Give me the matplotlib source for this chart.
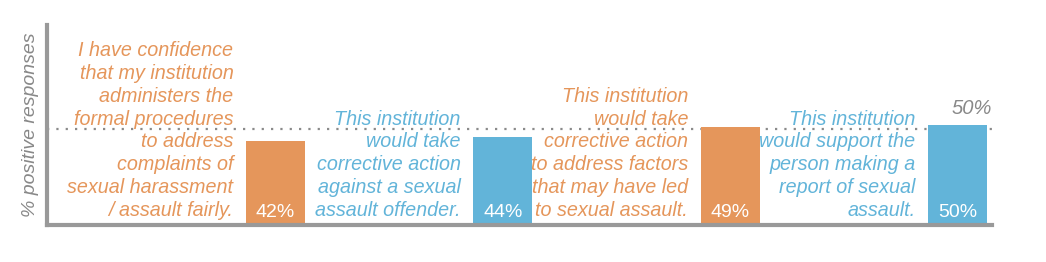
import matplotlib
matplotlib.use('Agg')
import matplotlib.pyplot as plt

plt.rcParams['font.family'] = ['Liberation Sans', 'DejaVu Sans']

statements = [
  'I have confidence\nthat my institution\nadministers the\nformal procedures\nto address\ncomplaints of\nsexual harassment\n/ assault fairly.',
  'This institution\nwould take\ncorrective action\nagainst a sexual\nassault offender.',
  'This institution\nwould take\ncorrective action\nto address factors\nthat may have led\nto sexual assault.',
  'This institution\nwould support the\nperson making a\nreport of sexual\nassault.',
]
values = [42, 44, 49, 50]
reference = 48
reference_label = '50%'

orange = '#E5965B'
blue = '#62B4D9'
gray = '#999999'
colors = [orange, blue, orange, blue]
positions = [1, 2, 3, 4]

fig = plt.figure(figsize=(10.46, 2.62), dpi=100)
ax = fig.add_axes([0.0449, 0.1431, 0.9035, 0.7615])

ax.bar(positions, values, width=0.26, color=colors, zorder=2)
ax.axhline(reference, color='#8a8a8a', linestyle=(0, (1, 3.2)), linewidth=1.6, zorder=1)

for x, v, c, s in zip(positions, values, colors, statements):
  ax.text(x, 1.6, f'{v}%', color='white', fontsize=14, ha='center', va='bottom', zorder=3)
  ax.annotate(s, xy=(x - 0.13, 0), xytext=(-9, 3.5), textcoords='offset points',
              ha='right', va='bottom', color=c, fontsize=14.2, style='italic',
              linespacing=1.25, multialignment='right')

ax.annotate(reference_label, xy=(4.15, 50), xytext=(0, 5), textcoords='offset points',
            ha='right', va='bottom', color='#888888', fontsize=14.5, style='italic')

ax.set_xlim(-0.005, 4.152)
ax.set_ylim(0, 100)
ax.set_xticks([])
ax.set_yticks([])
for side in ['top', 'right']:
  ax.spines[side].set_visible(False)
for side in ['left', 'bottom']:
  ax.spines[side].set_color(gray)
  ax.spines[side].set_linewidth(3)
ax.set_ylabel('% positive responses', color='#888888', fontsize=14, style='italic', labelpad=6)

fig.savefig('out.png', dpi=100)
